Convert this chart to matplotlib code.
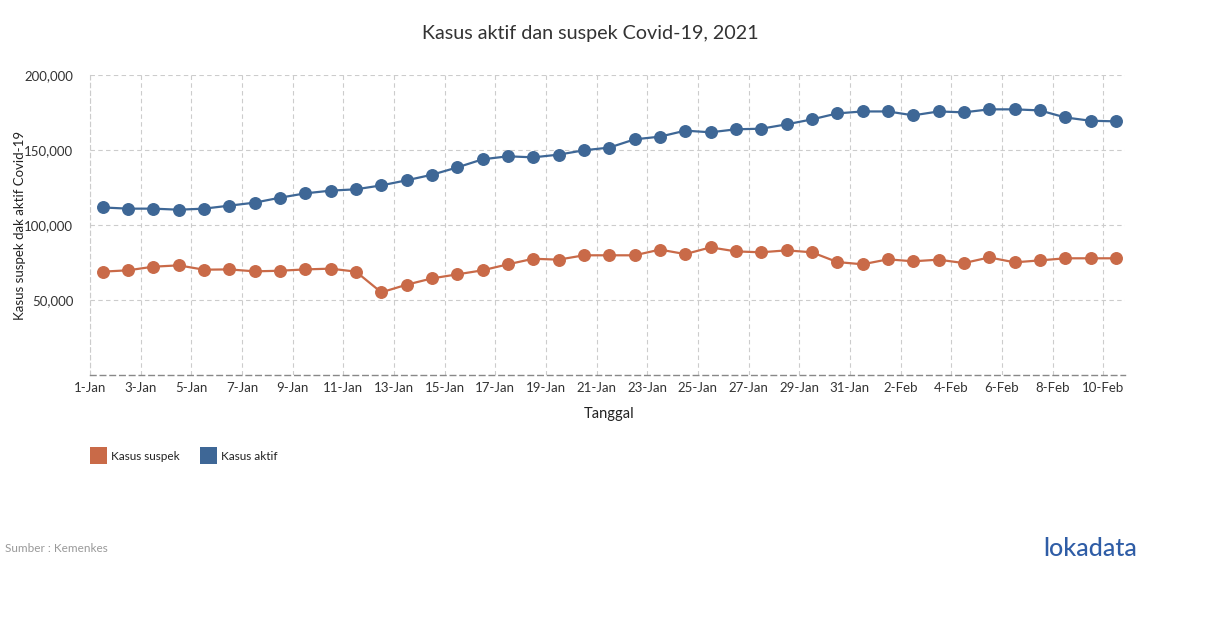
import matplotlib
matplotlib.use("Agg")
import matplotlib.pyplot as plt
from matplotlib.patches import Rectangle
import datetime as dt

plt.rcParams['font.family'] = ['Lato', 'DejaVu Sans']

start = dt.date(2021, 1, 1)
dates = [start + dt.timedelta(days=i) for i in range(41)]

kasus_aktif = [111.7, 110.9, 110.9, 110.2, 110.9, 112.9, 114.9, 118.2, 121.1, 122.9,
               123.8, 126.4, 129.8, 133.5, 138.4, 143.8, 145.8, 145.1, 146.9, 149.8,
               151.6, 157.1, 158.9, 162.9, 161.8, 163.8, 164.2, 167.1, 170.4, 174.4,
               175.7, 175.7, 173.1, 175.7, 175.1, 177.1, 177.1, 176.4, 171.7, 169.5, 169.1]
kasus_suspek = [68.9, 69.8, 72.2, 73.1, 70.2, 70.4, 69.1, 69.5, 70.4, 70.9,
                68.9, 55.1, 60.2, 64.4, 67.1, 69.8, 73.8, 77.5, 76.9, 79.8,
                79.8, 79.8, 83.6, 80.6, 85.1, 82.4, 81.8, 83.1, 81.8, 75.3,
                73.8, 77.1, 75.8, 76.9, 74.6, 78.4, 75.1, 76.4, 77.8, 77.8, 77.8]
kasus_aktif = [v * 1000 for v in kasus_aktif]
kasus_suspek = [v * 1000 for v in kasus_suspek]

y_ticks = [50000, 100000, 150000, 200000]
y_labels = ['50,000', '100,000', '150,000', '200,000']

c_suspek = '#c96a48'
c_aktif = '#3e6796'

W, H = 1210, 628
fig = plt.figure(figsize=(W / 100, H / 100), dpi=100)
ax = fig.add_axes([90 / W, 1 - 375 / H, (1125 - 90) / W, (375 - 75) / H])

xs = [i + 0.5 for i in range(len(dates))]
ax.plot(xs, kasus_suspek, color=c_suspek, lw=1.6, marker='o', ms=8.3, zorder=3)
ax.plot(xs, kasus_aktif, color=c_aktif, lw=1.6, marker='o', ms=8.3, zorder=3)

ax.set_xlim(0, 40.86)
ax.set_ylim(0, 200000)

tick_pos = list(range(0, 41, 2))
ax.set_xticks(tick_pos)
ax.set_xticklabels([f"{dates[i].day}-{dates[i].strftime('%b')}" for i in tick_pos],
                   fontsize=9.5, color='#333333')
ax.set_yticks(y_ticks)
ax.set_yticklabels(y_labels, fontsize=9.5, color='#333333')
ax.tick_params(axis='both', length=0)
ax.tick_params(axis='y', pad=12)
ax.tick_params(axis='x', pad=5)

ax.grid(True, color='#cccccc', linestyle=(0, (4, 3)), lw=0.8)
for s in ['top', 'right']:
    ax.spines[s].set_visible(False)
ax.spines['left'].set_color('#cccccc')
ax.spines['left'].set_linestyle((0, (4, 3)))
ax.spines['left'].set_linewidth(0.8)
ax.spines['bottom'].set_color('#888888')
ax.spines['bottom'].set_linestyle((0, (4, 3)))
ax.spines['bottom'].set_linewidth(1.0)
ax.set_axisbelow(True)

fig.text(590 / W, 1 - 33 / H, 'Kasus aktif dan suspek Covid-19, 2021', ha='center', va='center',
         fontsize=14.2, color='#333333')
fig.text(20 / W, 1 - 225 / H, 'Kasus suspek dak aktif Covid-19', rotation=90, ha='center', va='center',
         fontsize=9.5, color='#222222')
fig.text(609 / W, 1 - 414 / H, 'Tanggal', ha='center', va='center', fontsize=10.5, color='#222222')

for x0, col, lab in [(90, c_suspek, 'Kasus suspek'), (200, c_aktif, 'Kasus aktif')]:
    fig.patches.append(Rectangle((x0 / W, 1 - 464 / H), 17 / W, 17 / H, transform=fig.transFigure,
                                 facecolor=col, edgecolor='none'))
    fig.text((x0 + 21) / W, 1 - 456 / H, lab, ha='left', va='center', fontsize=8.5, color='#222222')

fig.text(5 / W, 1 - 548 / H, 'Sumber : Kemenkes', ha='left', va='center', fontsize=8.5, color='#999999')
fig.text(1090 / W, 1 - 549 / H, 'lokadata', ha='center', va='center', fontsize=18, color='#2f5da6',
         fontweight='medium')

fig.savefig('out.png', dpi=100)
